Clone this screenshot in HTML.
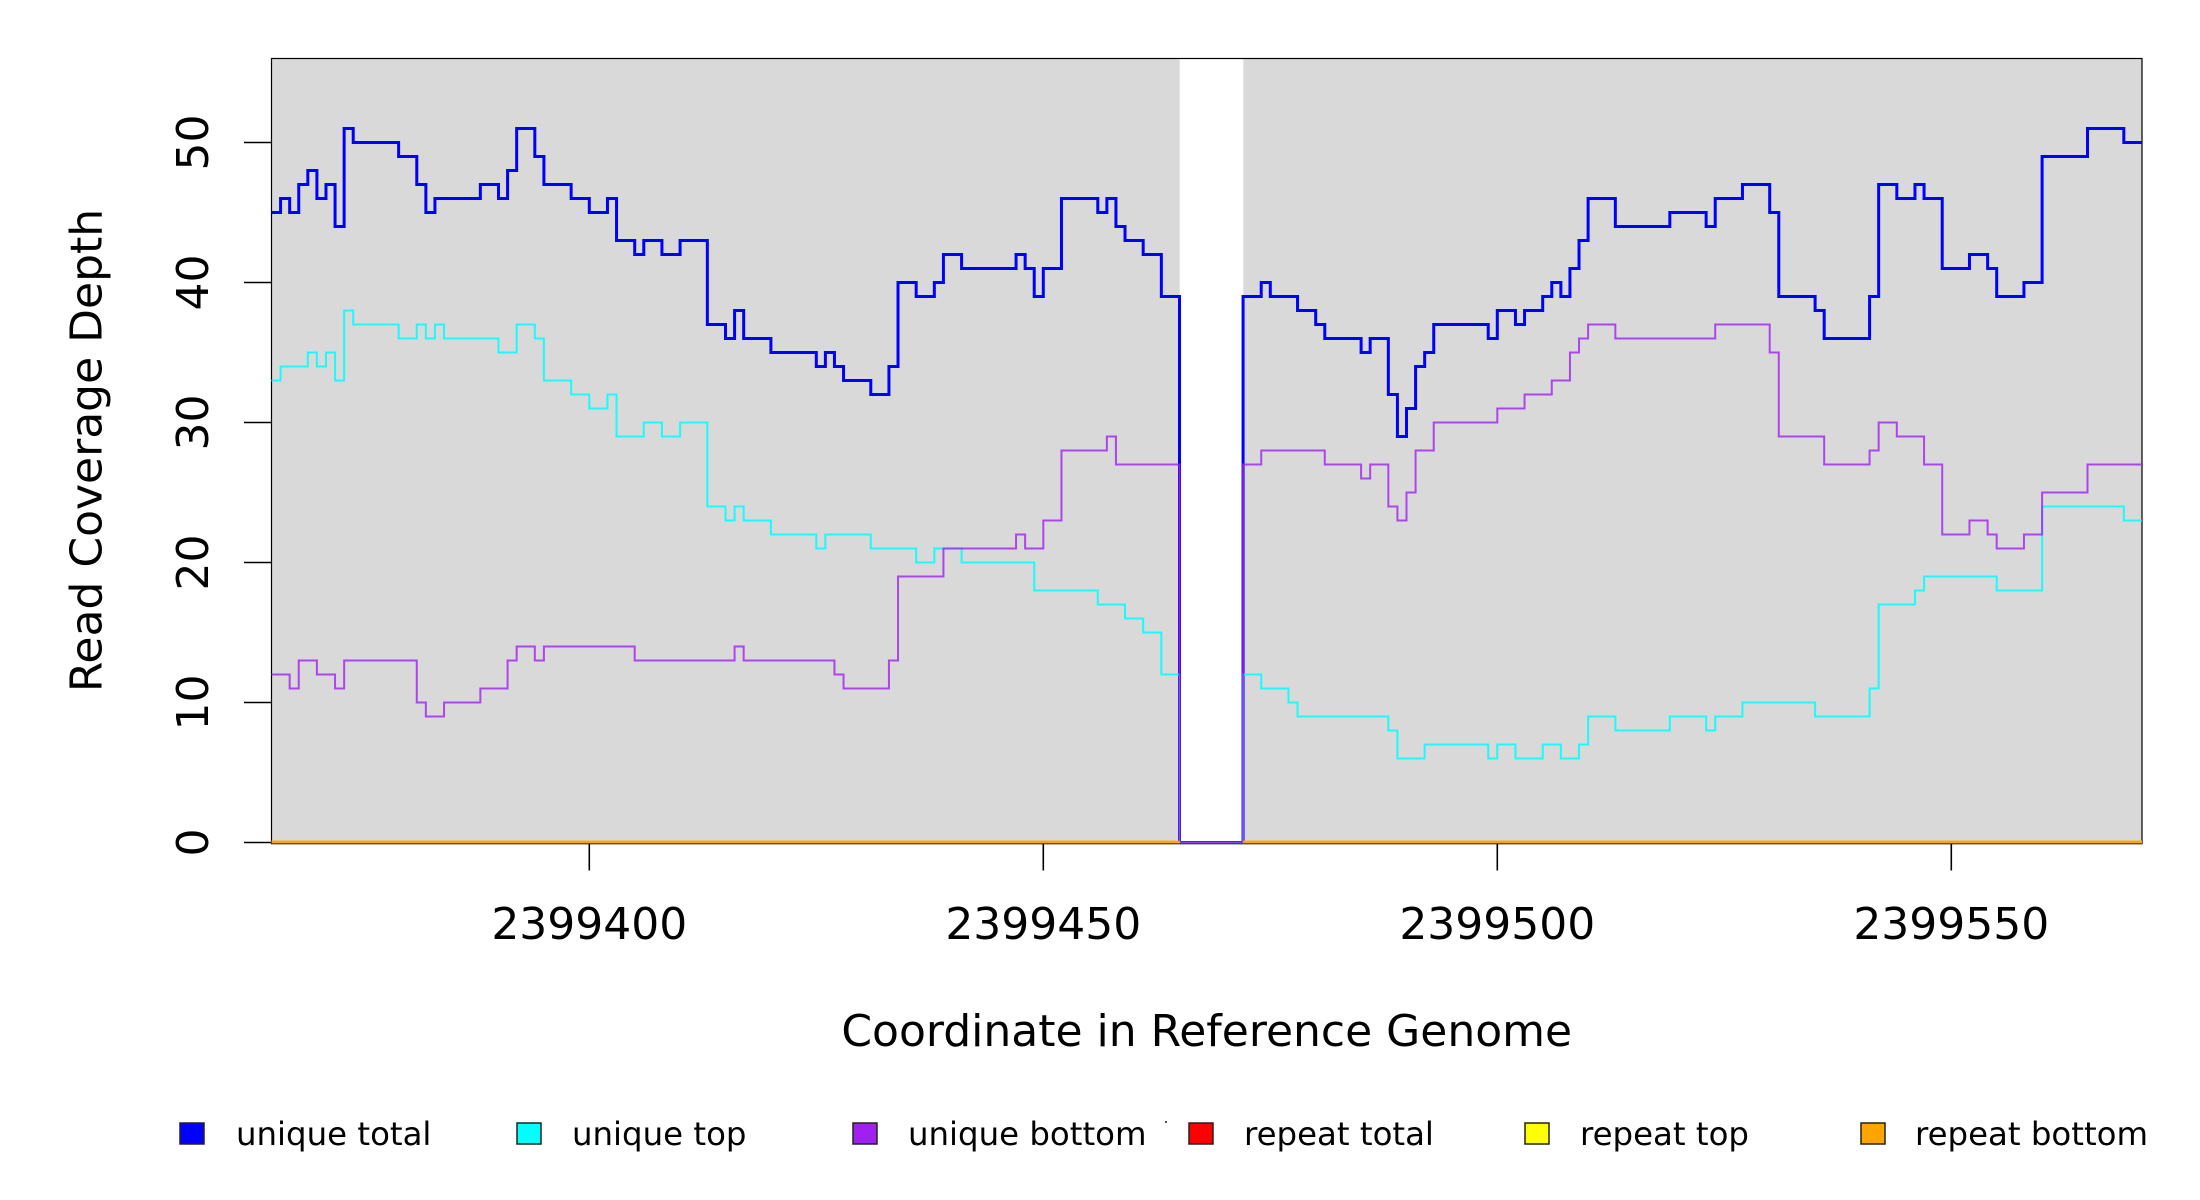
<!DOCTYPE html>
<html>
<head>
<meta charset="utf-8">
<style>
html,body{margin:0;padding:0;background:#fff;}
svg{display:block;}
text{font-family:"DejaVu Sans","Liberation Sans",sans-serif;fill:#000;}
</style>
</head>
<body>
<svg width="2200" height="1200" viewBox="0 0 2200 1200" xmlns="http://www.w3.org/2000/svg">
<rect x="0" y="0" width="2200" height="1200" fill="#ffffff"/>
<!-- plot background -->
<rect x="271.5" y="58.5" width="908.2" height="784" fill="#d9d9d9"/>
<rect x="1243.3" y="58.5" width="898.7" height="784" fill="#d9d9d9"/>

<!-- box -->
<rect x="271.5" y="58.5" width="1870.5" height="785.2" fill="none" stroke="#000" stroke-width="1.2"/>

<g transform="translate(271.5,842.5) scale(9.08,-14)" fill="none" stroke-linejoin="miter" stroke-linecap="butt">
<path vector-effect="non-scaling-stroke" stroke="#0000ff" stroke-width="3" d="M0,45 H1 V46 H2 V45 H3 V47 H4 V48 H5 V46 H6 V47 H7 V44 H8 V51 H9 V50 H14 V49 H16 V47 H17 V45 H18 V46 H23 V47 H25 V46 H26 V48 H27 V51 H29 V49 H30 V47 H33 V46 H35 V45 H37 V46 H38 V43 H40 V42 H41 V43 H43 V42 H45 V43 H48 V37 H50 V36 H51 V38 H52 V36 H55 V35 H60 V34 H61 V35 H62 V34 H63 V33 H66 V32 H68 V34 H69 V40 H71 V39 H73 V40 H74 V42 H76 V41 H82 V42 H83 V41 H84 V39 H85 V41 H87 V46 H91 V45 H92 V46 H93 V44 H94 V43 H96 V42 H98 V39 H100 V0 H107 V39 H109 V40 H110 V39 H113 V38 H115 V37 H116 V36 H120 V35 H121 V36 H123 V32 H124 V29 H125 V31 H126 V34 H127 V35 H128 V37 H134 V36 H135 V38 H137 V37 H138 V38 H140 V39 H141 V40 H142 V39 H143 V41 H144 V43 H145 V46 H148 V44 H154 V45 H158 V44 H159 V46 H162 V47 H165 V45 H166 V39 H170 V38 H171 V36 H176 V39 H177 V47 H179 V46 H181 V47 H182 V46 H184 V41 H187 V42 H189 V41 H190 V39 H193 V40 H195 V49 H200 V51 H204 V50 H206"/>
<path vector-effect="non-scaling-stroke" stroke="#00ffff" stroke-opacity="0.88" stroke-width="2" d="M0,33 H1 V34 H4 V35 H5 V34 H6 V35 H7 V33 H8 V38 H9 V37 H14 V36 H16 V37 H17 V36 H18 V37 H19 V36 H25 V35 H27 V37 H29 V36 H30 V33 H33 V32 H35 V31 H37 V32 H38 V29 H41 V30 H43 V29 H45 V30 H48 V24 H50 V23 H51 V24 H52 V23 H55 V22 H60 V21 H61 V22 H66 V21 H71 V20 H73 V21 H76 V20 H84 V18 H91 V17 H94 V16 H96 V15 H98 V12 H100 V0 H107 V12 H109 V11 H112 V10 H113 V9 H123 V8 H124 V6 H127 V7 H134 V6 H135 V7 H137 V6 H140 V7 H142 V6 H144 V7 H145 V9 H148 V8 H154 V9 H158 V8 H159 V9 H162 V10 H170 V9 H176 V11 H177 V17 H181 V18 H182 V19 H190 V18 H195 V24 H204 V23 H206"/>
<path vector-effect="non-scaling-stroke" stroke="#a020f0" stroke-opacity="0.8" stroke-width="2" d="M0,12 H2 V11 H3 V13 H5 V12 H7 V11 H8 V13 H16 V10 H17 V9 H19 V10 H23 V11 H26 V13 H27 V14 H29 V13 H30 V14 H40 V13 H51 V14 H52 V13 H62 V12 H63 V11 H68 V13 H69 V19 H74 V21 H82 V22 H83 V21 H85 V23 H87 V28 H92 V29 H93 V27 H100 V0 H107 V27 H109 V28 H116 V27 H120 V26 H121 V27 H123 V24 H124 V23 H125 V25 H126 V28 H128 V30 H135 V31 H138 V32 H141 V33 H143 V35 H144 V36 H145 V37 H148 V36 H159 V37 H165 V35 H166 V29 H171 V27 H176 V28 H177 V30 H179 V29 H182 V27 H184 V22 H187 V23 H189 V22 H190 V21 H193 V22 H195 V25 H200 V27 H206"/>
</g>
<!-- zero lines (repeat series) drawn above box border -->
<g fill="none" stroke-width="2.6">
<path stroke="#ff0000" d="M271.5,842 H1179.7 M1243.3,842 H2142"/>
<path stroke="#ffff00" d="M271.5,842 H1179.7 M1243.3,842 H2142"/>
<path stroke="#ffa500" d="M271.5,842 H1179.7 M1243.3,842 H2142"/>
</g>

<!-- y axis ticks -->
<g stroke="#000" stroke-width="1.6">
<line x1="244" y1="842.5" x2="271.5" y2="842.5"/>
<line x1="244" y1="702.5" x2="271.5" y2="702.5"/>
<line x1="244" y1="562.5" x2="271.5" y2="562.5"/>
<line x1="244" y1="422.5" x2="271.5" y2="422.5"/>
<line x1="244" y1="282.5" x2="271.5" y2="282.5"/>
<line x1="244" y1="142.5" x2="271.5" y2="142.5"/>
</g>
<g font-size="44" text-anchor="middle">
<text transform="translate(208,842.5) rotate(-90)">0</text>
<text transform="translate(208,702.5) rotate(-90)">10</text>
<text transform="translate(208,562.5) rotate(-90)">20</text>
<text transform="translate(208,422.5) rotate(-90)">30</text>
<text transform="translate(208,282.5) rotate(-90)">40</text>
<text transform="translate(208,142.5) rotate(-90)">50</text>
<text transform="translate(101.5,450.5) rotate(-90)">Read Coverage Depth</text>
</g>

<!-- x axis ticks -->
<g stroke="#000" stroke-width="1.6">
<line x1="589.3" y1="844" x2="589.3" y2="870.5"/>
<line x1="1043.3" y1="844" x2="1043.3" y2="870.5"/>
<line x1="1497.3" y1="844" x2="1497.3" y2="870.5"/>
<line x1="1951.3" y1="844" x2="1951.3" y2="870.5"/>
</g>
<g font-size="44" text-anchor="middle">
<text x="589.3" y="939">2399400</text>
<text x="1043.3" y="939">2399450</text>
<text x="1497.3" y="939">2399500</text>
<text x="1951.3" y="939">2399550</text>
<text x="1206.7" y="1046">Coordinate in Reference Genome</text>
</g>

<!-- legend -->
<g stroke="#222" stroke-width="1.5">
<rect x="180" y="1123" width="24" height="21" fill="#0000ff"/>
<rect x="517" y="1123" width="24" height="21" fill="#00ffff"/>
<rect x="853" y="1123" width="24" height="21" fill="#a020f0"/>
<rect x="1189" y="1123" width="24" height="21" fill="#ff0000"/>
<rect x="1525" y="1123" width="24" height="21" fill="#ffff00"/>
<rect x="1861" y="1123" width="24" height="21" fill="#ffa500"/>
</g>
<rect x="1165" y="1121" width="2" height="2" fill="#555"/>
<g font-size="32.4">
<text x="236" y="1145">unique total</text>
<text x="572" y="1145">unique top</text>
<text x="908" y="1145">unique bottom</text>
<text x="1244" y="1145">repeat total</text>
<text x="1580" y="1145">repeat top</text>
<text x="1915" y="1145">repeat bottom</text>
</g>
</svg>
</body>
</html>
